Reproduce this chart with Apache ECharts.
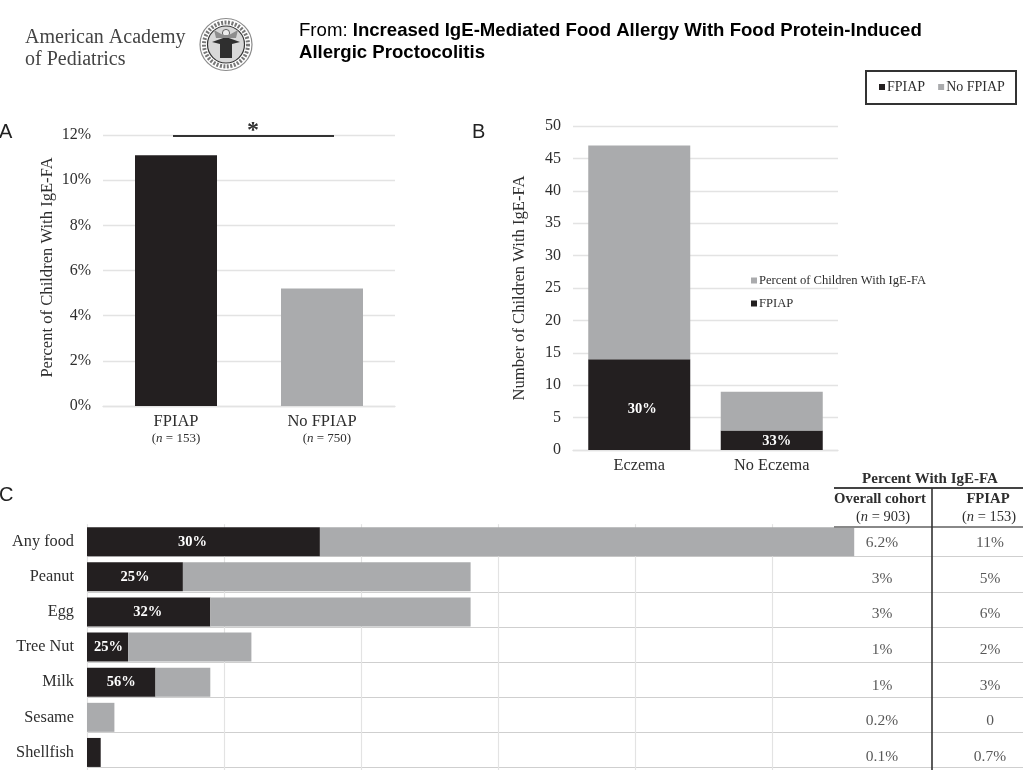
<!DOCTYPE html>
<html>
<head>
<meta charset="utf-8">
<script src="https://cdn.jsdelivr.net/npm/echarts@6/dist/echarts.min.js"></script>
<style>html,body{margin:0;padding:0;background:#fff;overflow:hidden}#main{width:1023px;height:770px;filter:blur(0.45px)}</style>
</head>
<body>
<div id="main"></div>
<script>
// Panel A
const aCategories = ['FPIAP', 'No FPIAP'];
const aN = ['153', '750'];
const aValues = [11.1, 5.2];
// Panel B
const bCategories = ['Eczema', 'No Eczema'];
const bFpiap = [14, 3];
const bOther = [33, 6];
const bLabels = ['30%', '33%'];
// Panel C
const foods = ['Any food', 'Peanut', 'Egg', 'Tree Nut', 'Milk', 'Sesame', 'Shellfish'];
const cFpiap = [17, 7, 9, 3, 5, 0, 1];
const cOther = [39, 21, 19, 9, 4, 2, 0];
const cLabels = ['30%', '25%', '32%', '25%', '56%', '', ''];
const overallPct = ['6.2%', '3%', '3%', '1%', '1%', '0.2%', '0.1%'];
const fpiapPct = ['11%', '5%', '6%', '2%', '3%', '0', '0.7%'];
const tableCols = ['Overall cohort', 'FPIAP'];

const BLACK = '#231f20', GRAY = '#aaabad', GRID = '#e3e3e3', INK = '#2e2e2e';
const SERIF = '"Liberation Serif", serif', SANS = '"Liberation Sans", sans-serif';

const gridLine = { show: true, lineStyle: { color: GRID, width: 1.4 } };
const plainAxis = { axisTick: { show: false }, axisLine: { show: false } };

function nLabel(n, pad) { return '{s|' + (pad || '') + '(}{i|n}{s| = ' + n + ')}'; }
const nRich = {
  s: { fontFamily: SERIF, fontSize: 13, color: INK, lineHeight: 16 },
  i: { fontFamily: SERIF, fontSize: 13, color: INK, fontStyle: 'italic', lineHeight: 16 },
  t: { fontFamily: SERIF, fontSize: 16.5, color: INK, lineHeight: 18 }
};
const headRich = {
  s: { fontFamily: SERIF, fontSize: 14.5, fill: INK, color: INK },
  i: { fontFamily: SERIF, fontSize: 14.5, fontStyle: 'italic', fill: INK, color: INK }
};

const chart = echarts.init(document.getElementById('main'), null, { renderer: 'canvas' });

const graphics = [
  // society wordmark
  { type: 'text', x: 25, y: 38, style: { text: 'American Academy', font: '20px ' + SERIF, fill: '#444', textVerticalAlign: 'middle' } },
  { type: 'text', x: 25, y: 60, style: { text: 'of Pediatrics', font: '20px ' + SERIF, fill: '#444', textVerticalAlign: 'middle' } },
  // seal
  { type: 'circle', shape: { cx: 226, cy: 44.5, r: 26 }, style: { fill: '#fff', stroke: '#8a8a8a', lineWidth: 1.2 } },
  { type: 'circle', shape: { cx: 226, cy: 44.5, r: 22 }, style: { fill: 'none', stroke: '#777', lineWidth: 4, lineDash: [2, 1.5] } },
  { type: 'circle', shape: { cx: 226, cy: 44.5, r: 18.5 }, style: { fill: '#d8d8d8', stroke: '#333', lineWidth: 1.2 } },
  { type: 'polygon', shape: { points: [[212, 42], [226, 37], [240, 42], [232, 44], [232, 58], [220, 58], [220, 44]] }, style: { fill: '#2f2f2f' } },
  { type: 'circle', shape: { cx: 226, cy: 33, r: 3.6 }, style: { fill: '#eee', stroke: '#444', lineWidth: 0.8 } },
  { type: 'polygon', shape: { points: [[214, 30], [223, 35], [229, 35], [238, 30], [236, 38], [216, 38]] }, style: { fill: '#8d8d8d' } },
  // source line
  { type: 'text', x: 299, y: 31, style: { text: '{a|From: }{b|Increased IgE-Mediated Food Allergy With Food Protein-Induced}', textVerticalAlign: 'middle',
      rich: { a: { fontFamily: SANS, fontSize: 18.6, fill: '#000', color: '#000' }, b: { fontFamily: SANS, fontSize: 18.6, fontWeight: 'bold', fill: '#000', color: '#000' } } } },
  { type: 'text', x: 299, y: 53, style: { text: 'Allergic Proctocolitis', font: 'bold 18.6px ' + SANS, fill: '#000', textVerticalAlign: 'middle' } },
  // legend frame
  { type: 'rect', shape: { x: 866, y: 71, width: 150, height: 33 }, style: { fill: 'none', stroke: '#333', lineWidth: 2 } },
  // panel letters
  { type: 'text', x: -1, y: 132, style: { text: 'A', font: '20px ' + SANS, fill: '#222', textVerticalAlign: 'middle' } },
  { type: 'text', x: 472, y: 132, style: { text: 'B', font: '20px ' + SANS, fill: '#222', textVerticalAlign: 'middle' } },
  { type: 'text', x: -1, y: 495, style: { text: 'C', font: '20px ' + SANS, fill: '#222', textVerticalAlign: 'middle' } },
  // significance bar
  { type: 'line', z: 50, shape: { x1: 173, y1: 136, x2: 334, y2: 136 }, style: { stroke: '#333', lineWidth: 2 } },
  { type: 'text', x: 253, y: 131, style: { text: '*', font: 'bold 24px ' + SERIF, fill: '#333', textAlign: 'center', textVerticalAlign: 'middle' } },
  // table rules
  { type: 'line', z: 50, shape: { x1: 834, y1: 488, x2: 1023, y2: 488 }, style: { stroke: '#444', lineWidth: 1.8 } },
  { type: 'line', z: 50, shape: { x1: 834, y1: 527, x2: 1023, y2: 527 }, style: { stroke: '#888', lineWidth: 1.8 } },
  { type: 'line', z: 50, shape: { x1: 932, y1: 488, x2: 932, y2: 770 }, style: { stroke: '#333', lineWidth: 1.6 } },
  // table headers
  { type: 'text', x: 930, y: 479, style: { text: 'Percent With IgE-FA', font: 'bold 15px ' + SERIF, fill: INK, textAlign: 'center', textVerticalAlign: 'middle' } },
  { type: 'text', x: 880, y: 499, style: { text: tableCols[0], font: 'bold 14.7px ' + SERIF, fill: INK, textAlign: 'center', textVerticalAlign: 'middle' } },
  { type: 'text', x: 988, y: 499, style: { text: tableCols[1], font: 'bold 14.7px ' + SERIF, fill: INK, textAlign: 'center', textVerticalAlign: 'middle' } },
  { type: 'text', x: 883, y: 517, style: { text: nLabel('903'), textAlign: 'center', textVerticalAlign: 'middle', rich: headRich } },
  { type: 'text', x: 989, y: 517, style: { text: nLabel('153'), textAlign: 'center', textVerticalAlign: 'middle', rich: headRich } }
];

const barLabel = { show: true, color: '#fff', fontFamily: SERIF, fontWeight: 'bold', fontSize: 14.5, position: 'inside' };
const labelNudge = [[-11, 0], [0, 0], [-1, 0], [1, 0], [0, 0], [0, 0], [0, 0]];

const option = {
  animation: false,
  backgroundColor: '#fff',
  textStyle: { fontFamily: SERIF, color: INK },
  graphic: graphics,
  legend: [
    { data: ['FPIAP', 'No FPIAP'], left: 879, top: 80, padding: 0, itemWidth: 6, itemHeight: 6, itemGap: 13, icon: 'rect',
      selectedMode: false, textStyle: { fontFamily: SERIF, fontSize: 14, color: INK, padding: [0, 0, 0, -3] } },
    { data: ['Percent of Children With IgE-FA', 'FPIAP'], orient: 'vertical', left: 751, top: 274, padding: 0, itemWidth: 6, itemHeight: 6, itemGap: 10, icon: 'rect',
      align: 'left', selectedMode: false, textStyle: { fontFamily: SERIF, fontSize: 12.6, color: INK, padding: [0, 0, 0, -3] } }
  ],
  grid: [
    { left: 103, top: 135, width: 292, height: 271 },
    { left: 573, top: 126, width: 265, height: 324 },
    { left: 87, top: 521.5, width: 936, height: 246.2 },
    { left: 87, top: 524.2, width: 936, height: 246.2 },
    { left: 828, top: 525.2, width: 216, height: 249.7, outerBoundsMode: 'none' }
  ],
  xAxis: [
    { gridIndex: 0, type: 'category', data: aCategories, ...plainAxis, axisLine: { show: true, lineStyle: { color: GRID, width: 1.4 } },
      axisLabel: { margin: 7, formatter: (v, i) => '{t|' + v + '}\n' + nLabel(aN[i], i === 1 ? '\u00a0\u00a0\u00a0' : ''), rich: nRich } },
    { gridIndex: 1, type: 'category', data: bCategories, ...plainAxis, axisLine: { show: true, lineStyle: { color: GRID, width: 1.4 } },
      axisLabel: { margin: 8, fontSize: 16.3, color: INK, fontFamily: SERIF } },
    { gridIndex: 2, type: 'value', show: false, min: 0, max: 1, splitLine: { show: false } },
    { gridIndex: 3, type: 'value', min: 0, max: 68.32, interval: 10, axisLine: { show: false }, axisTick: { show: false }, axisLabel: { show: false },
      splitLine: { show: true, lineStyle: { width: 1.2, color: [GRID, GRID, GRID, GRID, GRID, GRID, 'transparent', 'transparent'] } } },
    { gridIndex: 4, type: 'category', data: tableCols, show: false }
  ],
  yAxis: [
    { gridIndex: 0, type: 'value', min: 0, max: 12, interval: 2, ...plainAxis, splitLine: gridLine,
      axisLabel: { margin: 12, fontSize: 16, color: INK, fontFamily: SERIF, formatter: '{value}%' },
      name: 'Percent of Children With IgE-FA', nameLocation: 'middle', nameGap: 47, nameMoveOverlap: false, nameTextStyle: { fontFamily: SERIF, fontSize: 16.6, color: INK, padding: [0, 0, 0, 6] } },
    { gridIndex: 1, type: 'value', min: 0, max: 50, interval: 5, ...plainAxis, splitLine: gridLine,
      axisLabel: { margin: 12, fontSize: 16, color: INK, fontFamily: SERIF },
      name: 'Number of Children With IgE-FA', nameLocation: 'middle', nameGap: 44.5, nameMoveOverlap: false, nameTextStyle: { fontFamily: SERIF, fontSize: 16.6, color: INK } },
    { gridIndex: 2, type: 'category', data: foods, inverse: true, ...plainAxis, axisLabel: { show: false },
      splitLine: { show: true, showMinLine: false, lineStyle: { color: '#cfcfcf', width: 1.2 } } },
    { gridIndex: 3, type: 'category', data: foods, inverse: true, ...plainAxis, splitLine: { show: false },
      axisLabel: { margin: 13, fontSize: 16.3, color: INK, fontFamily: SERIF } },
    { gridIndex: 4, type: 'category', data: foods, inverse: true, show: false }
  ],
  series: [
    { name: 'Percent', type: 'bar', xAxisIndex: 0, yAxisIndex: 0, barWidth: 82,
      data: aValues.map((v, i) => ({ value: v, itemStyle: { color: i === 0 ? BLACK : GRAY } })) },
    { name: 'FPIAP', type: 'bar', xAxisIndex: 1, yAxisIndex: 1, stack: 'b', barWidth: 102, itemStyle: { color: BLACK },
      data: bFpiap.map((v, i) => ({ value: v, label: { ...barLabel, formatter: bLabels[i], offset: i === 0 ? [3, 5] : [5, 1] } })) },
    { name: 'Percent of Children With IgE-FA', type: 'bar', xAxisIndex: 1, yAxisIndex: 1, stack: 'b', barWidth: 102, itemStyle: { color: GRAY }, data: bOther },
    { name: 'FPIAP', type: 'bar', xAxisIndex: 3, yAxisIndex: 3, stack: 'c', barWidth: 29, itemStyle: { color: BLACK },
      data: cFpiap.map((v, i) => ({ value: v, label: { ...barLabel, formatter: cLabels[i], offset: labelNudge[i] } })) },
    { name: 'No FPIAP', type: 'bar', xAxisIndex: 3, yAxisIndex: 3, stack: 'c', barWidth: 29, itemStyle: { color: GRAY }, data: cOther },
    { name: 'rows', type: 'bar', xAxisIndex: 2, yAxisIndex: 2, data: [], silent: true },
    { name: 'Overall cohort', type: 'scatter', xAxisIndex: 4, yAxisIndex: 4, symbolSize: 1, itemStyle: { color: 'transparent' }, silent: true,
      label: { show: true, position: 'inside', formatter: p => p.value[2], fontFamily: SERIF, fontSize: 15.5, color: INK },
      data: overallPct.map((t, i) => [0, i, t]) },
    { name: 'FPIAP %', type: 'scatter', xAxisIndex: 4, yAxisIndex: 4, symbolSize: 1, itemStyle: { color: 'transparent' }, silent: true,
      label: { show: true, position: 'inside', formatter: p => p.value[2], fontFamily: SERIF, fontSize: 15.5, color: INK },
      data: fpiapPct.map((t, i) => [1, i, t]) }
  ]
};
chart.setOption(option);
</script>
</body>
</html>
